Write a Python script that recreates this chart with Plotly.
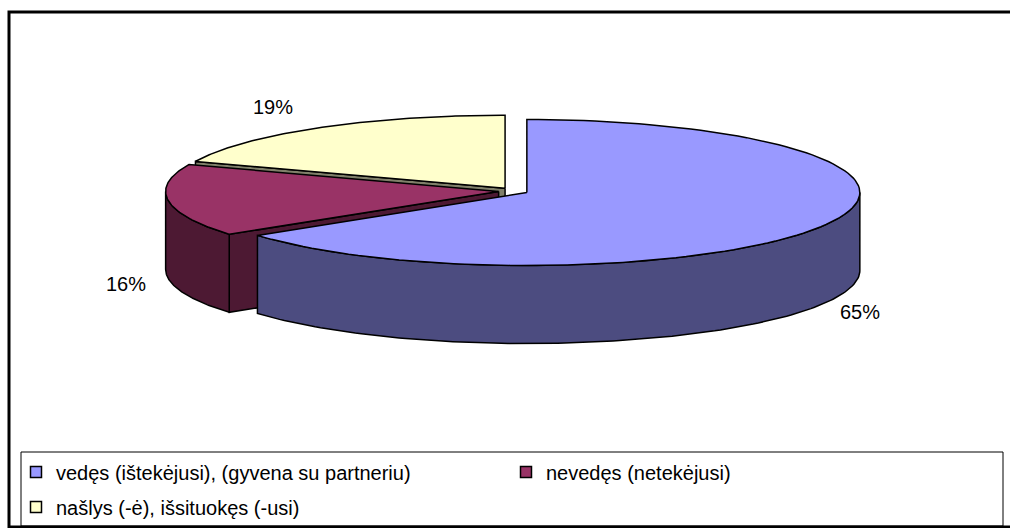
import numpy as np
import plotly.graph_objects as go

# ---- data ----
categories = ["vedęs (ištekėjusi), (gyvena su partneriu)",
              "nevedęs (netekėjusi)",
              "našlys (-ė), išsituokęs (-usi)"]
values = [65, 16, 19]
top_colors = ["#9999FF", "#993366", "#FFFFCC"]
side_colors = ["#4C4C80", "#4D1933", "#80806A"]

# ---- layout geometry (page pixels) ----
W, H = 1010, 528
cx, cy = 513.5, 191.0      # pie centre
rx, ry = 333.0, 73.0       # ellipse radii
depth = 78.0               # thickness
explode = 0.045
label_pos = [(860, 312), (126, 284), (273, 107)]
FONT = "Arial, Liberation Sans, sans-serif"

total = float(sum(values))
starts, ends = [], []
acc = 0.0
for v in values:
    starts.append(acc / total * 360.0)
    acc += v
    ends.append(acc / total * 360.0)


def pt(ax, ay, th_deg, dz=0.0):
    t = np.radians(th_deg)
    return ax + rx * np.sin(t), ay - ry * np.cos(t) + dz


def apex(i):
    mid = np.radians((starts[i] + ends[i]) / 2.0)
    return cx + explode * rx * np.sin(mid), cy - explode * ry * np.cos(mid)


def arc(ax, ay, a0, a1, dz=0.0, n=120):
    th = np.linspace(a0, a1, n)
    t = np.radians(th)
    return list(ax + rx * np.sin(t)), list(ay - ry * np.cos(t) + dz)


fig = go.Figure()


def poly(xs, ys, color):
    fig.add_trace(go.Scatter(
        x=xs + [xs[0]], y=ys + [ys[0]], mode="lines", fill="toself",
        fillcolor=color, line=dict(color="black", width=1.5),
        hoverinfo="skip", showlegend=False))


def radial_wall(i, th, color):
    ax, ay = apex(i)
    rxp, ryp = pt(ax, ay, th)
    poly([ax, rxp, rxp, ax], [ay, ryp, ryp + depth, ay + depth], color)


def outer_wall(i, a0, a1, color):
    ax, ay = apex(i)
    xt, yt = arc(ax, ay, a0, a1)
    xb, yb = arc(ax, ay, a0, a1, depth)
    poly(xt + xb[::-1], yt + yb[::-1], color)


def top_face(i):
    ax, ay = apex(i)
    xs, ys = arc(ax, ay, starts[i], ends[i])
    poly([ax] + xs, [ay] + ys, top_colors[i])


def front_range(a0, a1):
    lo, hi = max(a0, 90.0), min(a1, 270.0)
    return (lo, hi) if hi > lo else None


# draw back to front: yellow, red, blue
order = [2, 1, 0]
for i in order:
    if 180.0 < starts[i] < 360.0 and i != 0:
        radial_wall(i, starts[i], side_colors[i])
    fr = front_range(starts[i], ends[i])
    if fr:
        outer_wall(i, fr[0], fr[1], side_colors[i])
    top_face(i)

# labels
annotations = []
for i, v in enumerate(values):
    annotations.append(dict(x=label_pos[i][0], y=label_pos[i][1], xref="x", yref="y",
                            text=f"{v}%", showarrow=False,
                            font=dict(family=FONT, size=20, color="black")))

# legend entries
for i, c in enumerate(categories):
    fig.add_trace(go.Scatter(
        x=[None], y=[None], mode="markers", name=c,
        marker=dict(symbol="square", size=11, color=top_colors[i],
                    line=dict(color="black", width=1.5)),
        legend="legend" if i < 2 else "legend2"))

shapes = [
    dict(type="rect", xref="x", yref="y", x0=9, y0=12, x1=1030, y1=527,
         line=dict(color="black", width=3), layer="below"),
    dict(type="rect", xref="x", yref="y", x0=21, y0=452, x1=1003, y1=526,
         line=dict(color="black", width=1), layer="below"),
]

legend_common = dict(orientation="h", bgcolor="rgba(0,0,0,0)", borderwidth=0,
                     font=dict(family=FONT, size=20, color="black"),
                     entrywidth=445, entrywidthmode="pixels",
                     xanchor="left", yanchor="middle", itemclick=False,
                     itemdoubleclick=False)

fig.update_layout(
    width=W, height=H, autosize=False,
    margin=dict(l=0, r=0, t=0, b=0),
    paper_bgcolor="white", plot_bgcolor="white",
    xaxis=dict(range=[0, W], visible=False, fixedrange=True),
    yaxis=dict(range=[H, 0], visible=False, fixedrange=True),
    shapes=shapes, annotations=annotations,
    showlegend=True,
    legend=dict(x=16 / W, y=1 - 472 / H, **legend_common),
    legend2=dict(x=16 / W, y=1 - 507 / H, **legend_common),
)

fig.write_html("out.html", config={"displayModeBar": False},
               post_script="document.body.style.margin='0';"
                           "document.body.style.overflow='hidden';")
